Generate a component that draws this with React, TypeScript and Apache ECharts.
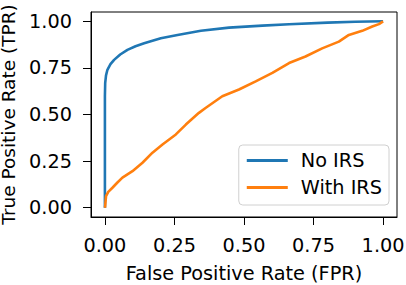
import React, { useEffect, useRef } from "react";
import * as echarts from "echarts";

const tickValues = [0, 0.25, 0.5, 0.75, 1.0];

const fprNoIRS = [0, 0, 0.001, 0.004, 0.009, 0.02, 0.033, 0.055, 0.081, 0.11, 0.141, 0.201, 0.261, 0.345, 0.446, 0.566, 0.662, 0.8, 0.9, 1.0];
const tprNoIRS = [0, 0.6, 0.668, 0.71, 0.74, 0.77, 0.793, 0.822, 0.847, 0.866, 0.882, 0.909, 0.927, 0.949, 0.966, 0.977, 0.984, 0.993, 0.998, 1.0];

const fprWithIRS = [0, 0.001, 0.004, 0.012, 0.027, 0.045, 0.063, 0.099, 0.135, 0.171, 0.207, 0.255, 0.291, 0.338, 0.363, 0.422, 0.482, 0.542, 0.602, 0.662, 0.721, 0.781, 0.841, 0.877, 0.925, 0.961, 0.985, 1.0];
const tprWithIRS = [0, 0.009, 0.062, 0.085, 0.107, 0.135, 0.161, 0.196, 0.241, 0.295, 0.339, 0.393, 0.446, 0.509, 0.536, 0.598, 0.634, 0.678, 0.723, 0.776, 0.811, 0.855, 0.891, 0.927, 0.949, 0.972, 0.985, 1.0];

const seriesNames = ["No IRS", "With IRS"];
const colors = ["#1f77b4", "#ff7f0e"];

const FONT = "DejaVu Sans";
const FS = 19.3;

export default function App() {
  const ref = useRef<HTMLDivElement>(null);
  useEffect(() => {
    if (!ref.current) return;
    const chart = echarts.init(ref.current, undefined, { renderer: "svg" });
    const axisCommon = {
      type: "value" as const,
      min: -0.05,
      max: 1.05,
      splitLine: { show: false },
      axisLine: { show: true, onZero: false, lineStyle: { color: "#000", width: 1 } },
      axisTick: { show: true, customValues: tickValues, length: 8, lineStyle: { color: "#000", width: 1 } },
      axisLabel: {
        customValues: tickValues,
        formatter: (v: number) => v.toFixed(2),
        color: "#000",
        fontFamily: FONT,
        fontSize: FS,
        margin: 19,
      },
      nameLocation: "middle" as const,
      nameTextStyle: { color: "#000", fontFamily: FONT, fontSize: FS },
    };
    chart.setOption({
      animation: false,
      backgroundColor: "#fff",
      grid: {
        left: 91,
        right: 9,
        top: 12,
        bottom: 68,
        show: true,
        borderColor: "#000",
        borderWidth: 1,
        backgroundColor: "transparent",
        containLabel: false,
        outerBoundsMode: "none",
      },
      xAxis: { ...axisCommon, name: "False Positive Rate (FPR)", nameGap: 47 },
      yAxis: {
        ...axisCommon,
        name: "True Positive Rate (TPR)",
        nameGap: 69,
        nameTextStyle: { color: "#000", fontFamily: FONT, fontSize: 18.5 },
      },
      legend: {
        orient: "vertical",
        right: 17,
        top: 145,
        padding: [6, 7, 8, 8],
        itemGap: 8,
        itemWidth: 41,
        itemHeight: 3,
        icon: "rect",
        borderColor: "#d0d0d0",
        borderWidth: 1,
        borderRadius: 4,
        backgroundColor: "rgba(255,255,255,0.8)",
        textStyle: { color: "#000", fontFamily: FONT, fontSize: FS, padding: [0, 0, 0, 8] },
        data: seriesNames,
      },
      series: [
        {
          name: seriesNames[0],
          type: "line",
          data: fprNoIRS.map((x, i) => [x, tprNoIRS[i]]),
          showSymbol: false,
          lineStyle: { color: colors[0], width: 2.6 },
          itemStyle: { color: colors[0] },
        },
        {
          name: seriesNames[1],
          type: "line",
          data: fprWithIRS.map((x, i) => [x, tprWithIRS[i]]),
          showSymbol: false,
          lineStyle: { color: colors[1], width: 2.6 },
          itemStyle: { color: colors[1] },
        },
      ],
    });
    return () => chart.dispose();
  }, []);
  return <div ref={ref} style={{ width: 406, height: 285, position: "absolute", left: 0, top: 0 }} />;
}
